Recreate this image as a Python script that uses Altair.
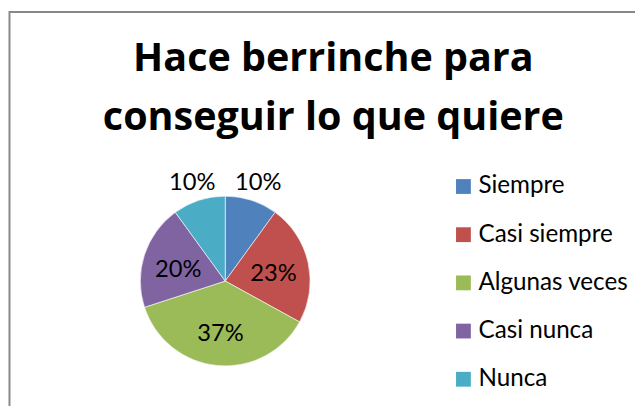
import altair as alt
import pandas as pd

categories = ["Siempre", "Casi siempre", "Algunas veces", "Casi nunca", "Nunca"]
values = [10, 23, 37, 20, 10]
labels = ["10%", "23%", "37%", "20%", "10%"]
colors = ["#4F81BD", "#C0504D", "#9BBB59", "#8064A2", "#4BACC6"]
title_lines = ["Hace berrinche para", "conseguir lo que quiere"]

df = pd.DataFrame({"cat": categories, "v": values, "lab": labels, "ord": list(range(len(categories)))})

FONT = "Lato"
TFONT = "Open Sans"
CX, CY, R = 220, 274, 86

color_enc = alt.Color(
    "cat:N",
    sort=categories,
    scale=alt.Scale(domain=categories, range=colors),
    legend=alt.Legend(
        title=None,
        orient="none",
        legendX=449,
        legendY=166,
        padding=0,
        symbolType="square",
        symbolSize=225,
        symbolStrokeWidth=0,
        symbolOpacity=1,
        labelFont=FONT,
        labelFontSize=24.5,
        labelColor="black",
        labelOffset=3,
        rowPadding=23.8,
        labelLimit=300,
    ),
)

pie = alt.Chart(df).mark_arc(x=CX, y=CY, outerRadius=R, stroke="white", strokeWidth=0.6).encode(
    theta=alt.Theta("v:Q", stack=True),
    order=alt.Order("ord:Q"),
    color=color_enc,
)

# label angles: midpoint of each slice (radians, clockwise from 12 o'clock)
text = alt.Chart(df).transform_joinaggregate(
    total="sum(v)"
).transform_window(
    cum="sum(v)", sort=[alt.SortField("ord")], frame=[None, 0]
).transform_calculate(
    mid="(datum.cum - datum.v / 2) / datum.total * 2 * PI",
    r="datum.v <= 10 ? 108 : 50",
).mark_text(x=CX, y=CY, dy=4, font=FONT, fontSize=24, baseline="middle", align="center", color="black").encode(
    text="lab:N",
    theta=alt.Theta("mid:Q", scale=None),
    radius=alt.Radius("r:Q", scale=None),
)

border = alt.Chart(pd.DataFrame({"a": [0]})).mark_rect(
    filled=False, stroke="#888888", strokeWidth=2
).encode(
    x=alt.value(1.5), y=alt.value(1.5), x2=alt.value(900), y2=alt.value(900)
)

chart = alt.layer(border, pie, text).properties(
    width=635,
    height=398,
    padding=0,
    autosize=alt.AutoSizeParams(type="none"),
    title=alt.Title(
        title_lines,
        font=TFONT,
        fontSize=40,
        fontWeight="bold",
        color="black",
        lineHeight=60,
        anchor="middle",
        dx=12,
        dy=133,
    ),
).configure_view(stroke=None)

chart.save("out.html", embed_options={"renderer": "svg", "actions": False})
